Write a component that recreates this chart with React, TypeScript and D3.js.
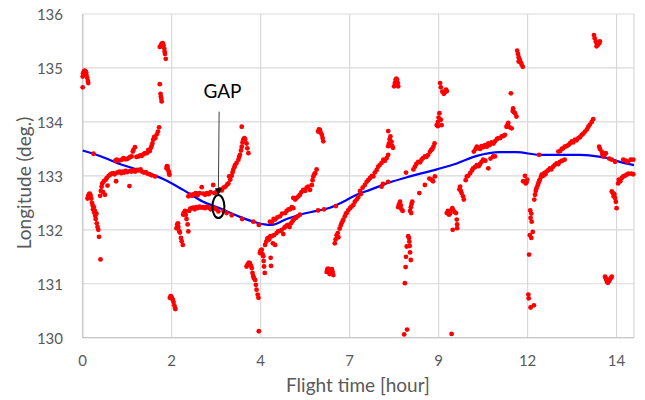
import React from "react";
import * as d3 from "d3";

// ---------- data (flight time [hour], longitude [deg.]) ----------
const xTickValues = [0, 2.4, 4.8, 7.2, 9.6, 12, 14.4];
const xTickLabels = ["0", "2", "4", "7", "9", "12", "14"];
const yTickValues = [130, 131, 132, 133, 134, 135, 136];
const yTickLabels = ["130", "131", "132", "133", "134", "135", "136"];

const segA = [[0.0,134.64],[0.0,134.84],[0.01,134.9],[0.03,134.93],[0.05,134.95],[0.07,134.94],[0.09,134.92],[0.1,134.87],[0.12,134.82],[0.14,134.76],[0.15,134.72]];
const segB = [[0.13,132.58],[0.15,132.63],[0.17,132.66],[0.19,132.67],[0.21,132.64],[0.23,132.58],[0.25,132.5],[0.27,132.45],[0.28,132.38],[0.3,132.42],[0.31,132.32],[0.33,132.35],[0.34,132.26],[0.35,132.2],[0.37,132.3],[0.38,132.12],[0.4,132.05],[0.42,132.0],[0.44,131.87],[0.48,131.45]];
const segC = [[0.47,132.63],[0.49,132.72],[0.51,132.8],[0.53,132.86],[0.55,132.7],[0.57,132.9],[0.6,132.65],[0.62,132.93],[0.65,132.96],[0.67,132.82],[0.7,133.0],[0.74,133.02],[0.78,133.04],[0.82,133.05],[0.86,133.03],[0.9,132.9],[0.93,133.06],[0.97,133.07],[1.0,133.08],[1.04,133.05],[1.08,133.08],[1.12,133.06],[1.16,133.09],[1.2,133.07],[1.26,132.81],[1.28,133.09],[1.32,133.08],[1.37,133.1],[1.42,133.08],[1.47,133.11],[1.52,133.1],[1.56,133.12],[1.6,133.08],[1.65,133.06],[1.7,133.07],[1.75,133.04],[1.8,133.03],[1.86,133.01],[1.95,132.99]];
const segC2 = [[0.29,133.41],[0.88,133.28],[0.92,133.3],[0.98,133.28],[1.05,133.3],[1.1,133.33],[1.15,133.31],[1.19,133.31],[1.24,133.33],[1.28,133.35],[1.32,133.36],[1.35,133.45],[1.37,133.48],[1.41,133.53],[1.45,133.35],[1.5,133.36],[1.55,133.38],[1.59,133.37],[1.64,133.4],[1.68,133.42],[1.73,133.42],[1.77,133.48],[1.81,133.46],[1.84,133.52],[1.86,133.56],[1.88,133.6],[1.9,133.67],[1.93,133.72],[1.96,133.7],[2.0,133.77],[2.03,133.82],[2.06,133.9]];
const segD = [[2.08,135.39],[2.11,135.42],[2.13,135.45],[2.16,135.46],[2.18,135.42],[2.2,135.36],[2.21,135.3],[2.22,135.26],[2.24,135.17],[2.08,134.7],[2.1,134.52],[2.11,134.47],[2.12,134.43],[2.13,134.38]];
const segE = [[2.26,133.14],[2.27,133.18],[2.29,133.17],[2.3,133.12],[2.32,133.08],[2.33,133.04],[2.34,133.02]];
const segF = [[2.35,130.74],[2.37,130.77],[2.39,130.76],[2.41,130.73],[2.43,130.7],[2.45,130.66],[2.47,130.6],[2.49,130.55],[2.5,130.53]];
const segG = [[2.53,132.03],[2.55,132.1],[2.57,132.12],[2.58,132.05],[2.6,131.98],[2.62,131.95],[2.65,131.85],[2.67,131.79],[2.7,131.72],[2.71,132.28],[2.73,132.32],[2.76,132.35],[2.78,132.28],[2.8,132.2],[2.83,132.1],[2.85,131.97],[2.87,132.35],[2.9,132.39],[2.94,132.4],[2.98,132.41],[3.02,132.38],[3.06,132.42],[3.1,132.4],[3.15,132.43],[3.2,132.41],[3.25,132.42],[3.3,132.4],[3.35,132.43],[3.4,132.41],[3.45,132.38],[3.5,132.42],[3.56,132.4],[3.6,132.38],[3.66,132.34],[3.8,132.35],[3.88,132.31],[4.02,132.27],[4.3,132.2],[4.6,132.15],[4.75,132.09]];
const segG2 = [[2.85,132.62],[2.9,132.65],[2.95,132.63],[3.0,132.66],[3.05,132.68],[3.1,132.64],[3.15,132.68],[3.21,132.79],[3.25,132.67],[3.3,132.65],[3.35,132.68],[3.4,132.66],[3.45,132.7],[3.52,132.83],[3.55,132.68],[3.6,132.7],[3.65,132.72],[3.7,132.75],[3.75,132.73],[3.8,132.78],[3.85,132.8],[3.9,132.84],[3.93,132.86],[3.95,132.99],[3.98,132.93],[4.02,133.0],[4.04,133.06],[4.06,133.11],[4.09,133.16],[4.11,133.2],[4.15,133.24],[4.2,133.3],[4.22,133.35],[4.24,133.39],[4.27,133.47],[4.29,133.54],[4.29,133.91],[4.31,133.62],[4.33,133.67],[4.36,133.7],[4.38,133.68],[4.42,133.6],[4.44,133.51],[4.47,133.42]];
const segH = [[4.42,131.32],[4.45,131.36],[4.48,131.39],[4.51,131.38],[4.54,131.33],[4.56,131.29],[4.58,131.2],[4.6,131.14],[4.62,131.1],[4.65,131.07],[4.67,130.98],[4.69,130.89],[4.72,130.8],[4.74,130.74],[4.75,130.12]];
const segI1 = [[4.78,131.57],[4.8,131.62],[4.83,131.63],[4.85,131.55],[4.87,131.51],[4.88,131.42],[4.89,131.32],[4.91,131.2],[5.07,131.48],[5.08,131.33]];
const segI2 = [[4.92,131.72],[4.95,131.78],[4.98,131.83],[5.0,131.85],[5.03,131.82],[5.06,131.88],[5.1,131.88],[5.13,131.75],[5.16,131.9],[5.19,131.72],[5.23,131.94],[5.27,131.97],[5.32,131.98],[5.37,132.0],[5.41,131.92],[5.44,132.04],[5.47,132.06],[5.51,132.08],[5.54,132.09],[5.58,132.05],[5.62,132.12],[5.66,132.16],[5.7,132.2],[5.75,132.22],[5.8,132.25],[5.86,132.28],[6.35,132.36],[6.51,132.38],[6.83,132.44]];
const segI3 = [[5.05,132.15],[5.1,132.14],[5.15,132.2],[5.19,132.19],[5.25,132.23],[5.32,132.25],[5.38,132.3],[5.46,132.31],[5.5,132.35],[5.55,132.38],[5.59,132.38],[5.64,132.42],[5.68,132.4],[5.68,132.59],[5.73,132.56],[5.77,132.59],[5.82,132.62],[5.86,132.65],[5.9,132.7],[5.95,132.74],[6.0,132.72],[6.04,132.78],[6.08,132.8],[6.13,132.74],[6.18,132.83],[6.2,132.92],[6.22,132.99],[6.25,133.03],[6.27,133.05],[6.31,133.12]];
const segI4 = [[6.35,133.82],[6.37,133.86],[6.4,133.85],[6.42,133.8],[6.45,133.76],[6.47,133.7],[6.49,133.64]];
const segI5 = [[6.58,131.22],[6.6,131.27],[6.62,131.28],[6.64,131.22],[6.66,131.18],[6.68,131.22],[6.7,131.26],[6.72,131.27],[6.74,131.22],[6.76,131.16]];
const segJ = [[6.8,131.75],[6.82,131.82],[6.85,131.9],[6.88,131.94],[6.9,131.86],[6.93,132.02],[6.96,132.08],[6.98,132.12],[7.01,132.16],[7.03,132.19],[7.07,132.25],[7.1,132.3],[7.12,132.31],[7.16,132.36],[7.21,132.4],[7.25,132.43],[7.3,132.46],[7.34,132.52],[7.39,132.56],[7.43,132.6],[7.48,132.72],[7.5,132.66],[7.55,132.78],[7.61,132.83],[7.66,132.89],[7.7,132.92],[7.75,132.96],[7.8,133.0],[7.84,132.99],[7.88,133.06],[7.93,133.11],[7.97,133.17],[8.01,133.2],[8.06,132.8],[8.06,133.24],[8.11,133.3],[8.15,133.28],[8.2,133.33],[8.24,133.39],[8.1,132.85],[8.24,132.89],[8.24,133.55],[8.26,133.6],[8.28,133.68],[8.3,133.73],[8.24,133.83],[8.33,133.63],[8.35,133.55],[8.37,133.52]];
const segJ2 = [[8.4,134.66],[8.42,134.72],[8.44,134.78],[8.46,134.8],[8.48,134.78],[8.5,134.72],[8.51,134.66]];
const segK = [[8.51,132.42],[8.53,132.47],[8.56,132.52],[8.58,132.45],[8.6,132.38],[8.63,132.35],[8.83,132.35],[8.85,132.42],[8.87,132.48],[8.89,132.52],[8.86,132.31],[8.72,133.06]];
const segK2 = [[8.78,131.88],[8.8,131.85],[8.81,131.78],[8.82,131.7],[8.74,131.69],[8.83,131.58],[8.72,131.5],[8.85,131.44],[8.71,131.31],[8.69,131.01],[8.75,130.15],[8.67,130.06]];
const segK3 = [[9.08,132.68],[9.23,132.83],[9.35,132.95],[9.41,132.93],[9.45,132.9],[9.5,132.99]];
const segL = [[8.92,133.12],[8.96,133.17],[9.0,133.22],[9.05,133.26],[9.1,133.25],[9.14,133.3],[9.18,133.33],[9.23,133.36],[9.27,133.35],[9.32,133.39],[9.37,133.45],[9.4,133.48],[9.43,133.5],[9.46,133.54],[9.49,133.6]];
const segL2 = [[9.55,133.94],[9.58,134.0],[9.6,134.08],[9.62,134.16],[9.66,134.04],[9.68,133.94],[9.58,133.92]];
const segL3 = [[9.64,134.72],[9.66,134.64],[9.7,134.56],[9.74,134.52],[9.77,134.55],[9.8,134.6],[9.82,134.57]];
const segM = [[9.82,132.31],[9.85,132.35],[9.88,132.28],[9.91,132.3],[9.95,132.37],[9.97,132.4],[9.99,132.37],[10.03,132.33],[10.07,132.31],[10.09,132.19],[10.1,132.1],[10.1,132.03],[9.98,132.0],[9.95,130.07]];
const segN = [[10.16,132.75],[10.18,132.8],[10.2,132.72],[10.22,132.68],[10.26,132.62],[10.28,132.56],[10.33,132.92],[10.36,132.99],[10.4,133.0],[10.45,133.05],[10.5,133.1],[10.53,133.14],[10.58,133.16],[10.63,133.2],[10.68,133.18],[10.72,133.22],[10.76,133.26],[10.8,133.3],[10.86,133.28],[10.94,133.14],[11.0,133.32],[11.07,133.36],[11.12,133.36]];
const segN2 = [[10.55,133.45],[10.6,133.5],[10.63,133.54],[10.68,133.52],[10.72,133.5],[10.76,133.55],[10.8,133.53],[10.85,133.57],[10.9,133.54],[10.94,133.6],[10.98,133.57],[11.03,133.62],[11.08,133.6],[11.12,133.64],[11.17,133.68],[11.21,133.7],[11.26,133.7],[11.3,133.73],[11.35,133.74],[11.39,133.76],[11.43,133.91],[11.46,133.95],[11.48,133.98],[11.52,133.9],[11.57,133.88],[11.6,134.2],[11.61,134.25],[11.63,134.18],[11.66,134.16],[11.7,134.1],[11.55,134.53]];
const segN3 = [[11.72,135.32],[11.74,135.26],[11.76,135.2],[11.79,135.15],[11.82,135.1],[11.84,135.06],[11.87,135.02],[11.76,135.12]];
const segO = [[11.88,132.9],[11.93,133.0],[11.95,132.86],[11.99,132.93],[11.97,132.88]];
const segO2 = [[12.07,132.36],[12.1,132.3],[12.08,132.22],[12.11,132.15],[12.06,131.9],[12.1,131.85],[12.14,131.96],[12.04,131.54],[12.02,130.8],[12.03,130.73],[12.08,130.56],[12.17,130.6]];
const segP = [[12.18,132.56],[12.2,132.65],[12.22,132.72],[12.24,132.77],[12.27,132.82],[12.29,132.86],[12.31,132.9],[12.33,132.93],[12.36,132.98],[12.38,133.02],[12.42,133.0],[12.45,133.05],[12.48,133.03],[12.51,133.08],[12.55,133.1],[12.6,133.14],[12.64,133.12],[12.69,133.17],[12.73,133.2],[12.78,133.23],[12.83,133.22],[12.87,133.26],[12.93,133.28],[13.0,133.3],[12.31,133.39]];
const segP2 = [[12.83,133.45],[12.88,133.46],[12.92,133.5],[12.96,133.51],[13.0,133.54],[13.05,133.55],[13.1,133.57],[13.14,133.6],[13.19,133.64],[13.23,133.62],[13.28,133.67],[13.32,133.66],[13.37,133.7],[13.42,133.72],[13.46,133.76],[13.5,133.78],[13.55,133.82],[13.6,133.86],[13.64,133.91],[13.68,133.95],[13.73,134.0],[13.77,134.05]];
const segP3 = [[13.79,135.61],[13.81,135.55],[13.84,135.49],[13.87,135.45],[13.9,135.43],[13.93,135.46],[13.95,135.49],[13.86,135.4]];
const segQ = [[13.93,133.54],[13.95,133.5],[14.0,133.45],[14.02,133.4],[14.04,133.36],[14.07,133.38],[14.11,133.42],[14.2,133.32],[14.27,133.3],[14.36,133.26],[14.58,133.3],[14.65,133.28],[14.71,133.26],[14.78,133.3],[14.85,133.3]];
const segR = [[14.27,132.71],[14.3,132.68],[14.32,132.62],[14.34,132.66],[14.36,132.59],[14.38,132.52],[14.4,132.4]];
const segS = [[14.44,132.86],[14.46,132.93],[14.5,132.9],[14.54,132.96],[14.58,132.99],[14.62,133.0],[14.67,133.02],[14.72,133.04],[14.8,133.04],[14.85,133.03]];
const segT = [[14.09,131.13],[14.11,131.1],[14.13,131.06],[14.15,131.03],[14.17,131.02],[14.2,131.05],[14.22,131.08],[14.24,131.1],[14.27,131.13]];

const trackSegments = [segA, segB, segC, segC2, segD, segE, segF, segG, segG2, segH, segI1, segI2, segI3, segI4, segI5, segJ, segJ2, segK, segK2, segK3, segL, segL2, segL3, segM, segN, segN2, segN3, segO, segO2, segP, segP2, segP3, segQ, segR, segS, segT];

// smooth trend line
const trendTime = [0, 0.5, 1.0, 1.55, 2.17, 2.71, 3.25, 3.7, 4.24, 4.6, 4.9, 5.1, 5.5, 5.86, 6.31, 6.67, 7.03, 7.39, 7.75, 8.29, 8.83, 9.55, 10.09, 10.63, 11.25, 11.7, 12.33, 13.05, 13.41, 13.77, 14.13, 14.49, 14.87];
const trendLon = [133.47, 133.36, 133.22, 133.1, 132.94, 132.74, 132.52, 132.4, 132.24, 132.15, 132.1, 132.09, 132.2, 132.28, 132.35, 132.41, 132.52, 132.65, 132.74, 132.88, 132.99, 133.12, 133.23, 133.37, 133.44, 133.44, 133.39, 133.39, 133.39, 133.37, 133.33, 133.26, 133.2];

// annotation
const gapLabel = "GAP";
const gapCenter = [3.66, 132.43];
const gapLabelPos = [3.77, 134.44];
const gapArrowTop = [3.68, 134.19];
const gapArrowTip = [3.66, 132.64];

const W = 645;
const H = 400;
const FONT = "Lato, 'Liberation Sans', sans-serif";

export default function App() {
  const x = d3.scaleLinear().domain([0, 14.87]).range([82.7, 634]);
  const y = d3.scaleLinear().domain([130, 136]).range([337.7, 14]);

  const line = d3
    .line<number>()
    .x((_, i) => x(trendTime[i]))
    .y((d) => y(d))
    .curve(d3.curveMonotoneX);

  const points = trackSegments.flat();
  const [x0, x1] = x.range();
  const [y0, y1] = y.range();

  const tipX = x(gapArrowTip[0]);
  const tipY = y(gapArrowTip[1]);

  return (
    <svg
      width={W}
      height={H}
      style={{ position: "absolute", left: 0, top: 0, background: "#fff" }}
      fontFamily={FONT}
    >
      <rect x={0} y={0} width={W} height={H} fill="#fff" />
      {/* grid */}
      {yTickValues.map((v) => (
        <line key={"gy" + v} x1={x0} x2={x1} y1={y(v)} y2={y(v)} stroke="#d9d9d9" strokeWidth={1.2} />
      ))}
      {xTickValues.map((v) => (
        <line key={"gx" + v} x1={x(v)} x2={x(v)} y1={y0} y2={y1} stroke="#d9d9d9" strokeWidth={1.2} />
      ))}
      <line x1={x1} x2={x1} y1={y0} y2={y1} stroke="#d9d9d9" strokeWidth={1.2} />
      <line x1={x0} x2={x0} y1={y0} y2={y1} stroke="#c8c8c8" strokeWidth={1.3} />
      <line x1={x0} x2={x1} y1={y0} y2={y0} stroke="#c8c8c8" strokeWidth={1.3} />

      {/* ticks */}
      {yTickValues.map((v, i) => (
        <text key={"ty" + v} x={63} y={y(v)} textAnchor="end" dominantBaseline="central" fontSize={15} fill="#595959">
          {yTickLabels[i]}
        </text>
      ))}
      {xTickValues.map((v, i) => (
        <text key={"tx" + v} x={x(v)} y={360} textAnchor="middle" dominantBaseline="central" fontSize={15} fill="#595959">
          {xTickLabels[i]}
        </text>
      ))}

      {/* axis titles */}
      <text x={358} y={384} textAnchor="middle" dominantBaseline="central" fontSize={19} fill="#595959">
        Flight time [hour]
      </text>
      <text
        transform={`translate(23,183) rotate(-90)`}
        textAnchor="middle"
        dominantBaseline="central"
        fontSize={19}
        fill="#595959"
      >
        Longitude (deg.)
      </text>

      {/* trend */}
      <path d={line(trendLon) || ""} fill="none" stroke="#0000ff" strokeWidth={2.2} />

      {/* track points */}
      {points.map((p, i) => (
        <circle key={i} cx={x(p[0])} cy={y(p[1])} r={2.4} fill="#ff0000" />
      ))}

      {/* GAP annotation */}
      <text x={x(gapLabelPos[0])} y={y(gapLabelPos[1])} textAnchor="middle" fontSize={19} fill="#000">
        {gapLabel}
      </text>
      <line
        x1={x(gapArrowTop[0])}
        y1={y(gapArrowTop[1])}
        x2={tipX}
        y2={tipY - 5}
        stroke="#404040"
        strokeWidth={1}
      />
      <path d={`M${tipX},${tipY} L${tipX - 3.5},${tipY - 7} L${tipX + 3.5},${tipY - 7} Z`} fill="#000" />
      <ellipse cx={x(gapCenter[0])} cy={y(gapCenter[1])} rx={6} ry={11.5} fill="none" stroke="#000" strokeWidth={2} />
    </svg>
  );
}
